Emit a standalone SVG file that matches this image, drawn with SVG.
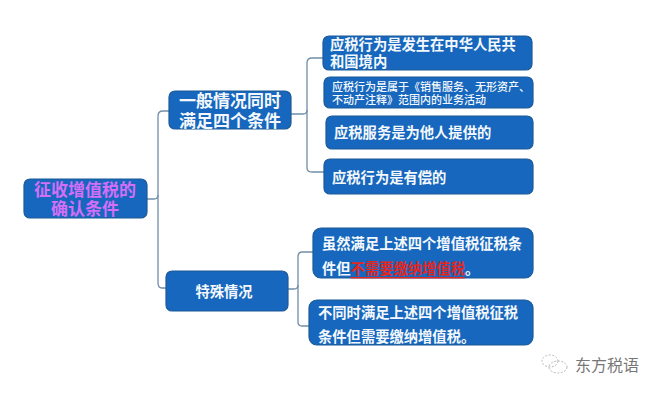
<svg xmlns="http://www.w3.org/2000/svg" width="660" height="401" viewBox="0 0 660 401">
<style>
.box{fill:#1667bd;stroke:#1d5a9a;stroke-width:1.2}
text{font-family:"Liberation Sans","Noto Sans CJK SC",sans-serif;font-weight:700;fill:#f4f8fc;dominant-baseline:central}
tspan{dominant-baseline:central}
.m{text-anchor:middle}
.f14{font-size:14.3px}
.f17{font-size:17px}
.f11{font-size:11px;font-weight:500}
.line{fill:none;stroke:#6f8ea8;stroke-width:1.3}
</style>
<rect width="660" height="401" fill="#fff"/>
<g id="connectors">
<path class="line" d="M147 199L154 199Q158 199 158 195L158 116Q158 111 163 111L169 111"/>
<path class="line" d="M158 195L158 283Q158 288 162 288L166 288"/>
<path class="line" d="M291 114L303 114Q307 114 307 110L307 63Q307 58 312 58L323 58"/>
<path class="line" d="M307 110L307 168Q307 172 312 172L324 172"/>
<path class="line" d="M288 289L294 289Q298 289 298 285L298 257Q298 252 302 252L313 252"/>
<path class="line" d="M298 285L298 322Q298 326 302 326L309 326"/>
</g>
<g id="root"><rect class="box" x="24" y="179" width="123" height="39" rx="6"/>
<text class="m f17" style="fill:#d56ef7"><tspan x="85" y="189.5">征收增值税的</tspan><tspan x="85" y="209.2">确认条件</tspan></text></g>
<g id="general"><rect class="box" x="169" y="91" width="122" height="38" rx="6"/>
<text class="m f17"><tspan x="230" y="101">一般情况同时</tspan><tspan x="230" y="120.8">满足四个条件</tspan></text></g>
<g id="special"><rect class="box" x="166" y="271" width="122" height="40" rx="6"/>
<text class="m f14" x="224" y="292">特殊情况</text></g>
<g id="n1"><rect class="box" x="323" y="36" width="209" height="34" rx="6"/>
<text class="f14"><tspan x="330" y="45">应税行为是发生在中华人民共</tspan><tspan x="330" y="62">和国境内</tspan></text></g>
<g id="n2"><rect class="box" x="324" y="77" width="209" height="31" rx="6"/>
<text class="f11"><tspan x="332" y="87">应税行为是属于《销售服务、无形资产、</tspan><tspan x="332" y="100">不动产注释》范围内的业务活动</tspan></text></g>
<g id="n3"><rect class="box" x="326" y="116" width="207" height="33" rx="6"/>
<text class="f14" x="334" y="133">应税服务是为他人提供的</text></g>
<g id="n4"><rect class="box" x="324" y="159" width="209" height="35" rx="6"/>
<text class="f14" x="332" y="178">应税行为是有偿的</text></g>
<g id="n5"><rect class="box" x="313" y="228" width="220" height="50" rx="8"/>
<text class="f14"><tspan x="322" y="244">虽然满足上述四个增值税征税条</tspan><tspan x="322" y="269">件但</tspan><tspan style="fill:#e4261f;text-decoration:underline">不需要缴纳增值税</tspan><tspan>。</tspan></text></g>
<g id="n6"><rect class="box" x="309" y="300" width="224" height="45" rx="8"/>
<text class="f14"><tspan x="318" y="313">不同时满足上述四个增值税征税</tspan><tspan x="318" y="337">条件但需要缴纳增值税。</tspan></text></g>
<g id="watermark">
<g fill="none" stroke="#b9b9b9" stroke-width="1" stroke-dasharray="2 1.5">
<ellipse cx="550" cy="361" rx="8" ry="6"/>
<ellipse cx="558" cy="367" rx="9" ry="6"/>
</g>
<text x="575" y="365" style="font-size:16px;font-weight:400;fill:#777">东方税语</text>
</g>
</svg>
